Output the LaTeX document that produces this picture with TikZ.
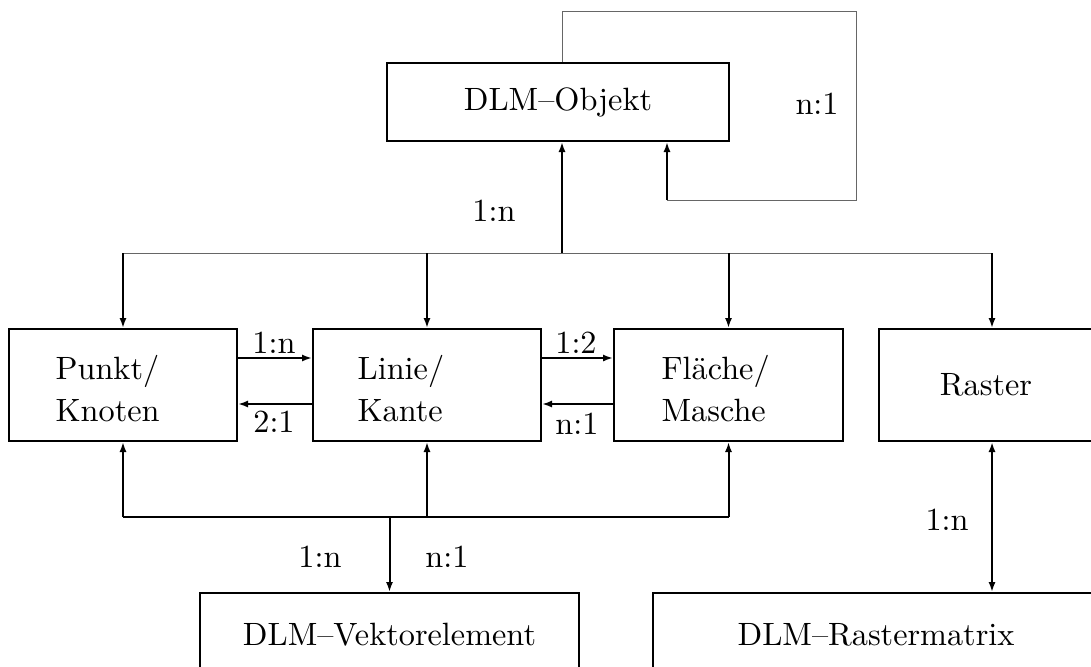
\documentclass[tikz,border=0pt]{standalone}
\usetikzlibrary{arrows.meta}
\begin{document}
\begin{tikzpicture}[x=0.31pt,y=-0.31pt,
  box/.style={draw, line width=0.62pt, rectangle, inner sep=0pt, anchor=north west,
              font=\fontsize{10}{13}\selectfont},
  conn/.style={line width=0.62pt},
  thinconn/.style={line width=0.31pt, draw=black!60},
  tip/.style={-{Latex[length=3.1pt,width=2.2pt]}},
  bothtips/.style={{Latex[length=3.1pt,width=2.2pt]}-{Latex[length=3.1pt,width=2.2pt]}},
  lbl/.style={font=\fontsize{10}{13}\selectfont, inner sep=0pt},
  boxtext/.style={lbl, anchor=west, align=left},
]
\useasboundingbox (0,0) rectangle (1091,666);
\clip (0,0) rectangle (1091,666);

% entity boxes
\node[box, minimum width={342*0.31pt}, minimum height={78*0.31pt}] (obj) at (386,62) {DLM\textendash Objekt};
\node[box, minimum width={228*0.31pt}, minimum height={112*0.31pt}] (p) at (8,328) {};
\node[box, minimum width={228*0.31pt}, minimum height={112*0.31pt}] (l) at (312,328) {};
\node[box, minimum width={229*0.31pt}, minimum height={112*0.31pt}] (f) at (613,328) {};
\node[box, minimum width={214*0.31pt}, minimum height={112*0.31pt}] (r) at (878,328) {Raster};
\node[box, minimum width={379*0.31pt}, minimum height={84*0.31pt}] (v) at (199,592) {DLM\textendash Vektorelement};
\node[box, minimum width={446*0.31pt}, minimum height={84*0.31pt}] (m) at (652,592) {DLM\textendash Rastermatrix};

\node[boxtext] (pt) at (55,389) {Punkt/\\Knoten};
\node[boxtext] (lt) at (357,389) {Linie/\\Kante};
\node[boxtext] (ft) at (661,389) {Fl\"ache/\\Masche};

% junction points
\coordinate (hub) at (562,253);
\coordinate (vhub) at (388.5,517);
\coordinate (rx) at (992,0);
\coordinate (loopin) at (667,0);

% self relation of DLM-Objekt
\draw[thinconn] (hub |- obj.north) -- (hub |- 0,11) -- (856,11) -- (856,200)
  -- (loopin |- 0,200);
\draw[conn, tip] (loopin |- 0,200) -- (loopin |- obj.south);

% generalisation to the object kinds
\draw[conn, tip] (hub) -- (hub |- obj.south);
\draw[thinconn] (p.north |- hub) -- (rx |- hub);
\draw[conn, tip] (p.north |- hub) -- (p.north);
\draw[conn, tip] (l.north |- hub) -- (l.north);
\draw[conn, tip] (f.north |- hub) -- (f.north);
\draw[conn, tip] (rx |- hub) -- (rx |- r.north);

% relations between the vector objects
\draw[conn, tip] (p.east |- 0,358) -- (l.west |- 0,358);
\draw[conn, tip] (l.west |- 0,404) -- (p.east |- 0,404);
\draw[conn, tip] (l.east |- 0,358) -- (f.west |- 0,358);
\draw[conn, tip] (f.west |- 0,404) -- (l.east |- 0,404);

% vector elements
\draw[conn, tip] (p.south |- vhub) -- (p.south);
\draw[conn, tip] (l.south |- vhub) -- (l.south);
\draw[conn, tip] (f.south |- vhub) -- (f.south);
\draw[conn] (p.south |- vhub) -- (f.south |- vhub);
\draw[conn, tip] (v.north |- vhub) -- (v.north);

% raster matrix
\draw[conn, bothtips] (rx |- r.south) -- (rx |- m.north);

% cardinalities
\node[lbl] (c1) at (817,104) {n:1};
\node[lbl] (c2) at (494,211) {1:n};
\node[lbl] (c3) at (274,343) {1:n};
\node[lbl] (c4) at (274,422) {2:1};
\node[lbl] (c5) at (576,343) {1:2};
\node[lbl] (c6) at (577,424) {n:1};
\node[lbl] (c7) at (320,557) {1:n};
\node[lbl] (c8) at (447,557) {n:1};
\node[lbl] (c9) at (947,520) {1:n};
\end{tikzpicture}
\end{document}
